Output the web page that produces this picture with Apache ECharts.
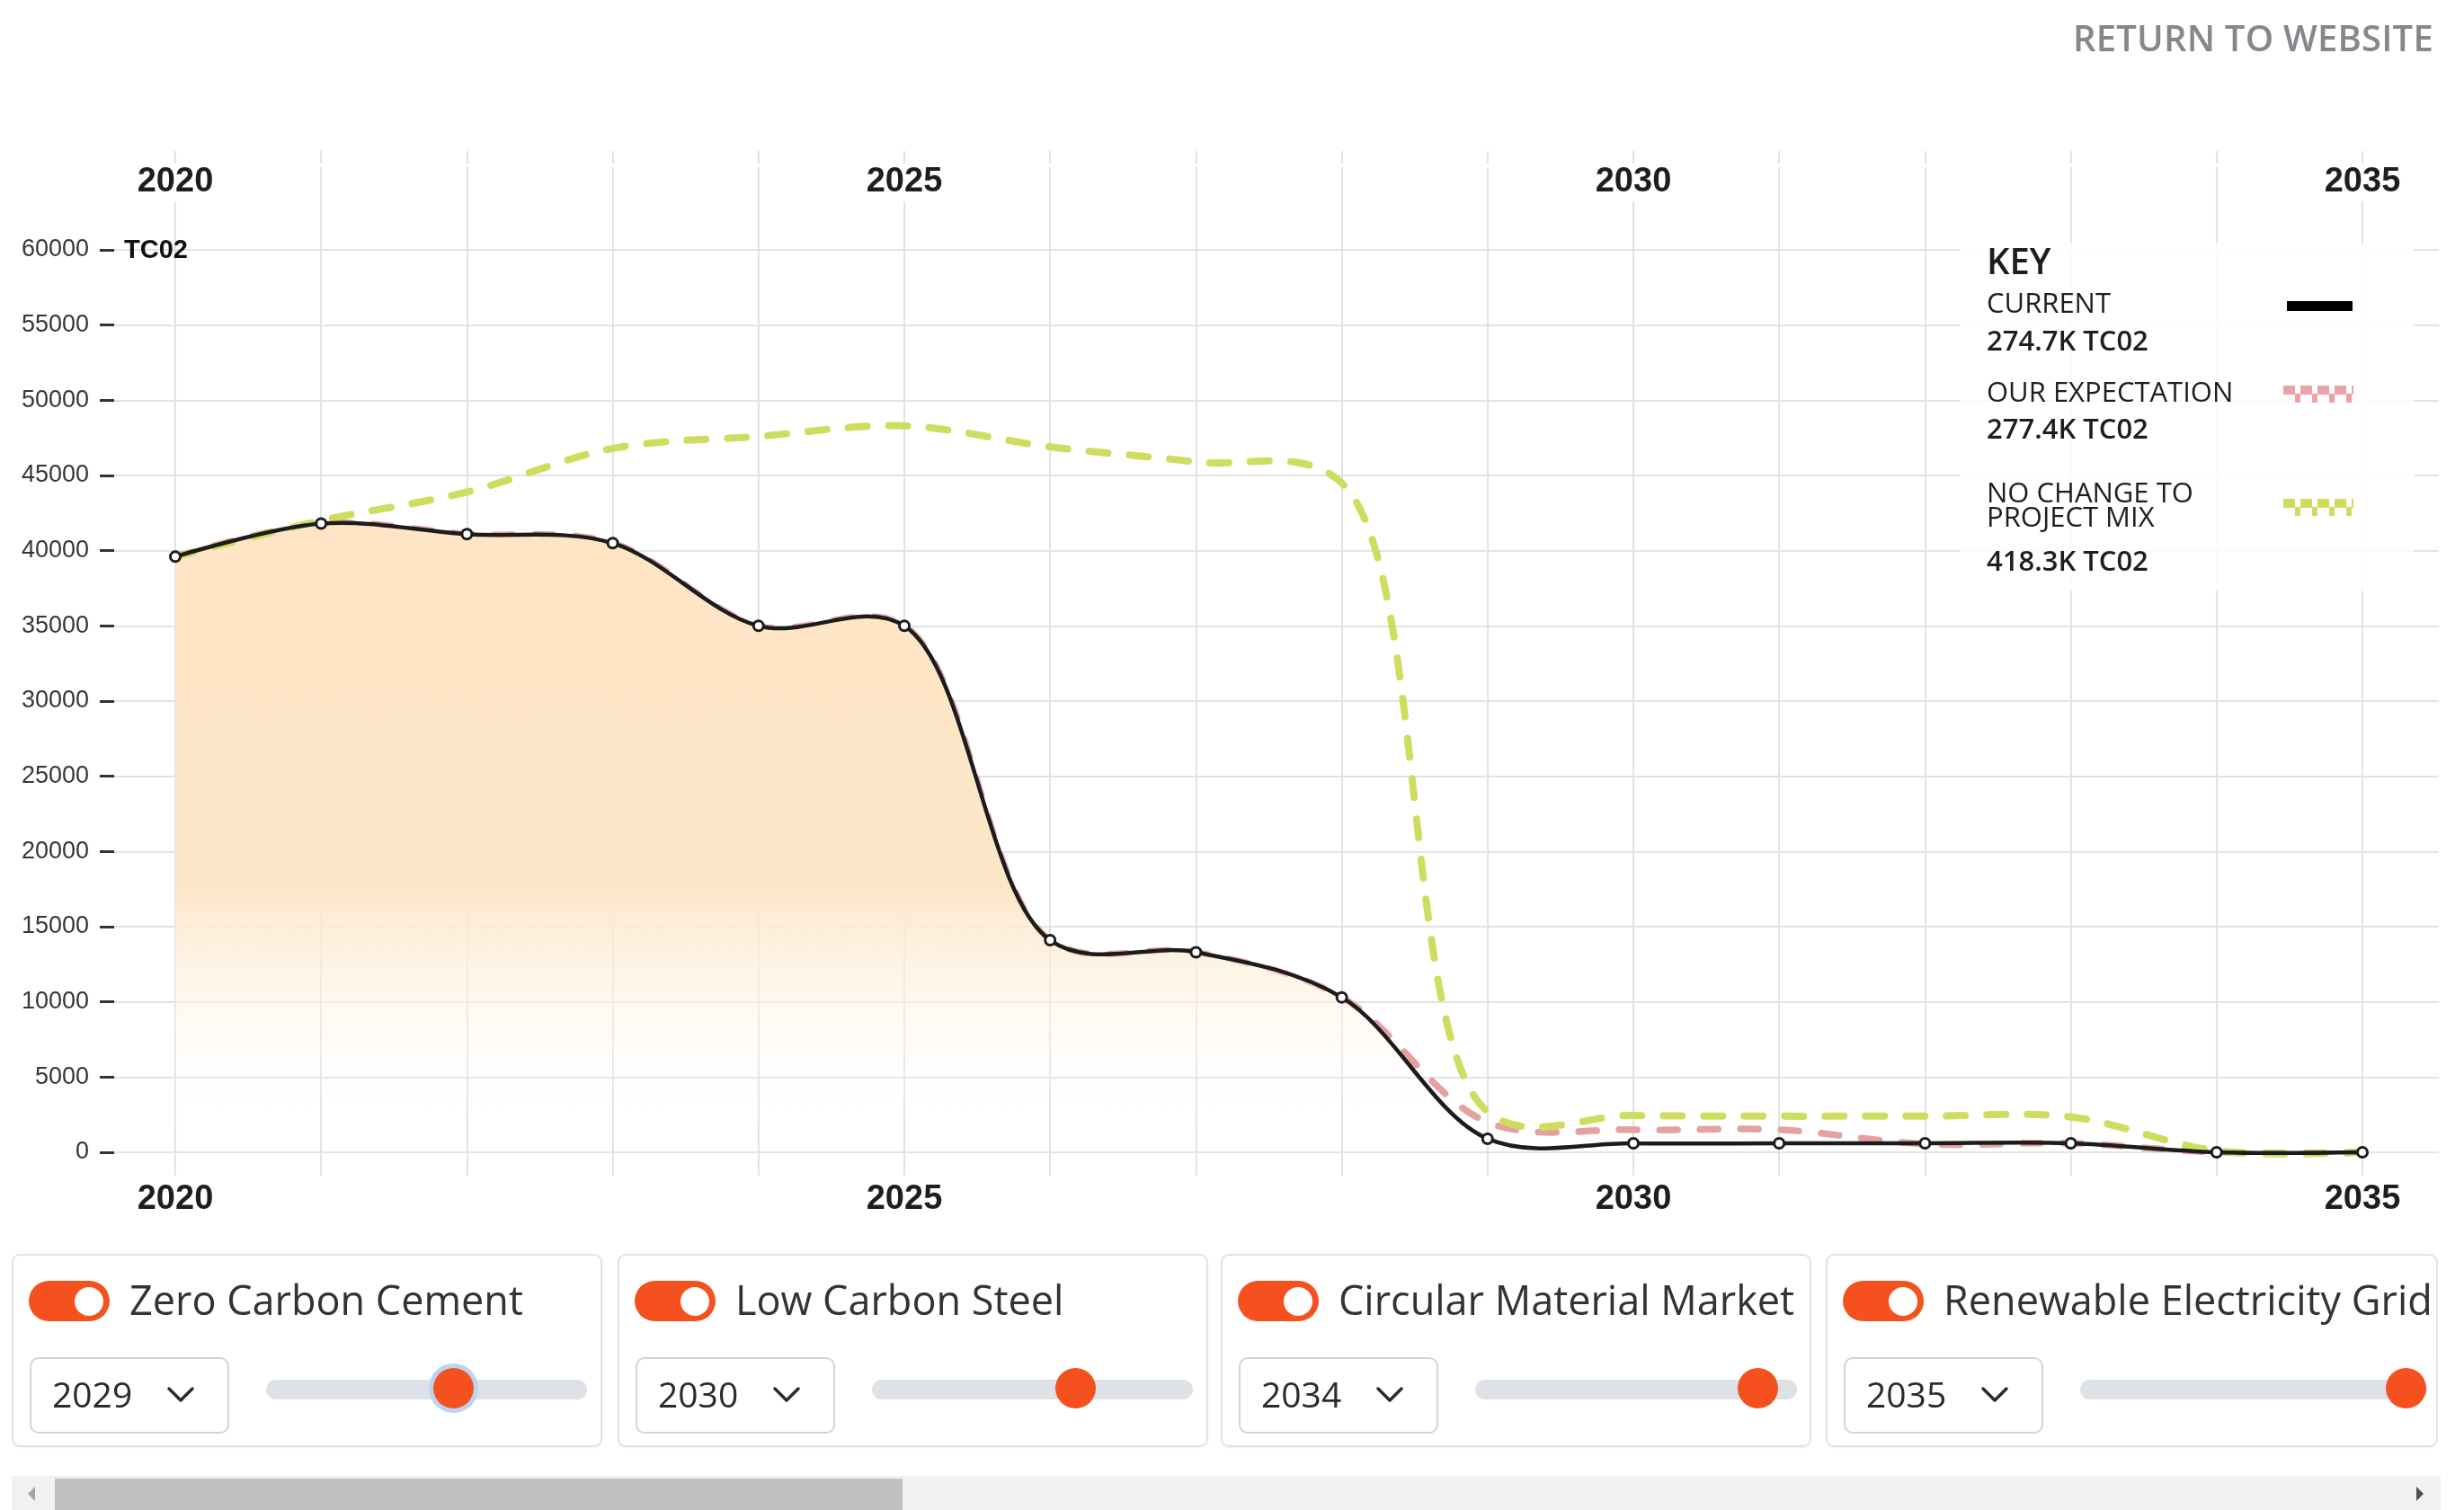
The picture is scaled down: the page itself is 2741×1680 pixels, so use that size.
<!DOCTYPE html>
<html>
<head>
<meta charset="utf-8">
<script src="https://cdn.jsdelivr.net/npm/echarts@6/dist/echarts.min.js"></script>
<style>
  html, body { margin: 0; padding: 0; background: #fff; width: 2741px; height: 1680px; overflow: hidden; }
  #chart { position: absolute; left: 0; top: 0; width: 2741px; height: 1680px; }
  .ui { position: absolute; font-family: "Open Sans", sans-serif; }
  #ret { left: 2306px; top: 22px; font-size: 40px; line-height: 1; font-weight: 600; color: #86868c; letter-spacing: 0.2px; white-space: nowrap; }
  .card { position: absolute; top: 1395px; height: 215px; box-sizing: border-box; border: 2px solid #e2e3e5; border-radius: 9px; background: #fff; box-shadow: 0 1px 2px rgba(0,0,0,0.05); }
  .toggle { position: absolute; left: 17px; top: 28px; width: 90px; height: 45px; border-radius: 23px; background: #f4511e; }
  .toggle .k { position: absolute; left: 51px; top: 6.5px; width: 32px; height: 32px; border-radius: 50%; background: #fff; }
  .lbl { position: absolute; left: 129px; top: 19px; font-size: 45px; line-height: 60px; color: #333; white-space: nowrap; }
  .sel { position: absolute; left: 18px; top: 113px; width: 222px; height: 85px; box-sizing: border-box; border: 2px solid #cfd5dd; border-radius: 10px; background: #fff; }
  .sel .t { position: absolute; left: 23px; top: 9px; font-size: 39px; line-height: 60px; color: #2b2b2b; }
  .sel svg { position: absolute; left: 150px; top: 30px; }
  .track { position: absolute; top: 138px; height: 22px; border-radius: 11px; background: #dee1e6; }
  .knob { position: absolute; top: 125px; width: 45px; height: 45px; border-radius: 50%; background: #f4511e; }
  .knob.focus { box-shadow: 0 0 0 5px #bcd4f4; }
  #sbar { position: absolute; left: 13px; top: 1642px; width: 2702px; height: 38px; background: #f1f1f1; }
  #sthumb { position: absolute; left: 48px; top: 3px; width: 943px; height: 35px; background: #c1c1c1; }
  .arr { position: absolute; top: 12px; width: 0; height: 0; border-top: 8px solid transparent; border-bottom: 8px solid transparent; }
  #aL { left: 18px; border-right: 8px solid #a3a3a3; }
  #aR { left: 2675px; border-left: 8px solid #505050; }
</style>
</head>
<body>
<div id="chart"></div>
<div id="ret" class="ui">RETURN TO WEBSITE</div>
<div id="cards"></div>
<div id="sbar"><div id="sthumb"></div><div class="arr" id="aL"></div><div class="arr" id="aR"></div></div>
<script>
// ---------------- data ----------------
const years = [2020, 2021, 2022, 2023, 2024, 2025, 2026, 2027, 2028, 2029, 2030, 2031, 2032, 2033, 2034, 2035];
const current = [39600, 41800, 41100, 40500, 35000, 35000, 14100, 13300, 10300, 900, 600, 600, 600, 600, 0, 0];
const expectation = [39600, 41800, 41100, 40500, 35000, 35000, 14100, 13300, 10300, 2000, 1500, 1500, 550, 600, 0, 0];
const noChange = [39600, 42000, 43900, 46800, 47600, 48300, 46900, 45900, 44500, 2700, 2450, 2400, 2400, 2350, 100, 0];
const yearLabels = [2020, 2025, 2030, 2035];
const yMin = 0, yMax = 60000, yStep = 5000;
const unitLabel = 'TC02';
const keyTitle = 'KEY';
const seriesNames = ['CURRENT', 'OUR EXPECTATION', 'NO CHANGE TO\nPROJECT MIX'];
const seriesTotals = ['274.7K TC02', '277.4K TC02', '418.3K TC02'];
const levers = ['Zero Carbon Cement', 'Low Carbon Steel', 'Circular Material Market', 'Renewable Electricity Grid'];
const leverYears = [2029, 2030, 2034, 2035];

// ---------------- UI controls (HTML) ----------------
const cardLefts = [13, 687, 1358, 2031];
const cardWidths = [657, 657, 657, 681];
const trackW = [357, 357, 358, 386];
const knobCenters = [491, 509, 597, 645];
const cardsEl = document.getElementById('cards');
levers.forEach((name, i) => {
  const c = document.createElement('div');
  c.className = 'card ui';
  c.style.left = cardLefts[i] + 'px';
  c.style.width = cardWidths[i] + 'px';
  c.innerHTML =
    '<div class="toggle"><div class="k"></div></div>' +
    '<div class="lbl">' + name + '</div>' +
    '<div class="sel"><div class="t">' + leverYears[i] + '</div>' +
    '<svg width="32" height="20" viewBox="0 0 32 20"><polyline points="3,3 16,16 29,3" fill="none" stroke="#2b2b2b" stroke-width="3.5" stroke-linecap="round" stroke-linejoin="round"/></svg></div>' +
    '<div class="track" style="left:281px;width:' + trackW[i] + 'px"></div>' +
    '<div class="knob' + (i === 0 ? ' focus' : '') + '" style="left:' + (knobCenters[i] - 24.5) + 'px"></div>';
  cardsEl.appendChild(c);
});

// ---------------- chart ----------------
const chart = echarts.init(document.getElementById('chart'), null, { renderer: 'canvas' });
const pairs = arr => years.map((y, i) => [y, arr[i]]);
const gridColor = '#e3e3e3';
const numFont = '"Liberation Sans", Arial, sans-serif';
const yearFmt = v => (yearLabels.indexOf(v) >= 0 ? String(v) : '');
const pink = '#e5a1a1';
const green = '#cfdd5f';
const black = '#1c1c1c';

// centripetal Catmull-Rom (alpha 0.5) through pixel points
function crPath(pts) {
  const alpha = 0.5, eps = 1e-12;
  const dist2 = (a, b) => (a[0] - b[0]) * (a[0] - b[0]) + (a[1] - b[1]) * (a[1] - b[1]);
  let d = 'M' + pts[0][0] + ',' + pts[0][1];
  for (let i = 0; i < pts.length - 1; i++) {
    const p0 = pts[i - 1] || pts[i], p1 = pts[i], p2 = pts[i + 1], p3 = pts[i + 2] || pts[i + 1];
    const l01_2a = Math.pow(dist2(p0, p1), alpha), l01_a = Math.sqrt(l01_2a);
    const l12_2a = Math.pow(dist2(p1, p2), alpha), l12_a = Math.sqrt(l12_2a);
    const l23_2a = Math.pow(dist2(p2, p3), alpha), l23_a = Math.sqrt(l23_2a);
    let c1 = [p1[0], p1[1]], c2 = [p2[0], p2[1]];
    if (l01_a > eps) {
      const a = 2 * l01_2a + 3 * l01_a * l12_a + l12_2a, n = 3 * l01_a * (l01_a + l12_a);
      c1 = [(p1[0] * a - p0[0] * l12_2a + p2[0] * l01_2a) / n, (p1[1] * a - p0[1] * l12_2a + p2[1] * l01_2a) / n];
    }
    if (l23_a > eps) {
      const b = 2 * l23_2a + 3 * l23_a * l12_a + l12_2a, m = 3 * l23_a * (l23_a + l12_a);
      c2 = [(p2[0] * b + p1[0] * l23_2a - p3[0] * l12_2a) / m, (p2[1] * b + p1[1] * l23_2a - p3[1] * l12_2a) / m];
    }
    d += ' C' + c1[0] + ',' + c1[1] + ' ' + c2[0] + ',' + c2[1] + ' ' + p2[0] + ',' + p2[1];
  }
  return d;
}

function curveSeries(name, values, z, style, area) {
  return {
    name: name, type: 'custom', xAxisIndex: 3, yAxisIndex: 2, z: z, silent: true,
    data: pairs(values),
    renderItem: function (params, api) {
      if (params.dataIndex !== 0) return null;
      const pts = years.map((y, i) => api.coord([y, values[i]]));
      let d = crPath(pts);
      if (area) {
        const base = api.coord([years[0], 0])[1];
        d += ' L' + pts[pts.length - 1][0] + ',' + base + ' L' + pts[0][0] + ',' + base + ' Z';
      }
      return { type: 'path', shape: { pathData: d }, style: style };
    }
  };
}

function dashRow(x, y, w, h, dash, gap, offset, color) {
  const out = [];
  let pos = -offset;
  while (pos < w) {
    const s = Math.max(pos, 0), e = Math.min(pos + dash, w);
    if (e > s) out.push({ type: 'rect', shape: { x: x + s, y: y, width: e - s, height: h }, style: { fill: color }, z: 101 });
    pos += dash + gap;
  }
  return out;
}
function checker(x, y, color) {
  return dashRow(x, y, 78, 10, 13, 6, 0, color).concat(dashRow(x, y + 9, 78, 10, 6, 13, -13, color));
}

const legendX = 2210;
const txt = (text, y, size, weight) => ({
  type: 'text', z: 101,
  style: { text: text, x: legendX, y: y, font: weight + ' ' + size + 'px "Open Sans", sans-serif', fill: '#1e1e1e', verticalAlign: 'middle', lineHeight: 27 }
});

const areaFill = new echarts.graphic.LinearGradient(0, 0, 0, 1, [
  { offset: 0, color: '#fde5c5' },
  { offset: 0.58, color: '#fde6c8' },
  { offset: 0.96, color: 'rgba(255,255,255,0)' }
]);

const option = {
  animation: false,
  backgroundColor: '#fff',
  grid: [
    { left: 195, right: 113, top: 168, bottom: 372 },
    { left: 127, right: 28, top: 278, bottom: 398 },
    { left: 195, right: 113, top: 278, bottom: 398 }
  ],
  xAxis: [
    { gridIndex: 0, type: 'value', min: years[0], max: years[years.length - 1], interval: 1, position: 'bottom',
      axisLine: { show: false }, axisTick: { show: false },
      splitLine: { show: true, lineStyle: { color: gridColor, width: 2 } },
      axisLabel: { formatter: yearFmt, margin: 8, fontSize: 38, fontWeight: 'bold', color: '#1e1e1e', fontFamily: numFont } },
    { gridIndex: 0, type: 'value', min: years[0], max: years[years.length - 1], interval: 1, position: 'top',
      axisLine: { show: false }, axisTick: { show: false }, splitLine: { show: false },
      axisLabel: { inside: true, formatter: yearFmt, margin: 14, fontSize: 38, fontWeight: 'bold', color: '#1e1e1e', fontFamily: numFont,
                   backgroundColor: '#fff', padding: [2, 6, 2, 6] } },
    { gridIndex: 1, type: 'value', min: 0, max: 1, show: false },
    { gridIndex: 2, type: 'value', min: years[0], max: years[years.length - 1], show: false }
  ],
  yAxis: [
    { gridIndex: 0, type: 'value', min: 0, max: 1, show: false },
    { gridIndex: 1, type: 'value', min: yMin, max: yMax, interval: yStep,
      axisLine: { show: false },
      axisTick: { show: true, length: 16, lineStyle: { color: '#333', width: 3 } },
      splitLine: { show: true, lineStyle: { color: gridColor, width: 2 } },
      axisLabel: { margin: 28, fontSize: 27, color: '#363636', fontFamily: numFont, formatter: v => String(v) } },
    { gridIndex: 2, type: 'value', min: yMin, max: yMax, show: false }
  ],
  series: [
    curveSeries(seriesNames[1], expectation, 1, { fill: 'none', stroke: pink, lineWidth: 7.5, lineDash: [20, 25], lineCap: 'round' }, false),
    curveSeries('CURRENT AREA', current, 2, { fill: areaFill, stroke: 'none' }, true),
    curveSeries(seriesNames[2], noChange, 3, { fill: 'none', stroke: green, lineWidth: 8, lineDash: [21, 24], lineCap: 'round' }, false),
    curveSeries(seriesNames[0], current, 4, { fill: 'none', stroke: black, lineWidth: 4.5, lineJoin: 'round' }, false),
    { name: seriesNames[0] + ' POINTS', type: 'scatter', xAxisIndex: 3, yAxisIndex: 2, z: 5, data: pairs(current),
      symbol: 'circle', symbolSize: 11, itemStyle: { color: '#fff', borderColor: black, borderWidth: 3, opacity: 1 } }
  ],
  graphic: [
    { type: 'text', z: 50, style: { text: unitLabel, x: 138, y: 279, font: 'bold 29px "Liberation Sans", Arial, sans-serif', fill: '#111', verticalAlign: 'middle' } },
    { type: 'rect', z: 100, shape: { x: 2180, y: 270, width: 505, height: 387 }, style: { fill: 'rgba(255,255,255,0.86)' } },
    txt(keyTitle, 294, 40, 600),
    txt(seriesNames[0], 339, 31, 400),
    txt(seriesTotals[0], 381, 31, 600),
    txt(seriesNames[1], 438, 31, 400),
    txt(seriesTotals[1], 479, 31, 600),
    txt(seriesNames[2], 564, 31, 400),
    txt(seriesTotals[2], 626, 31, 600),
    { type: 'rect', z: 101, shape: { x: 2544, y: 335, width: 73, height: 11 }, style: { fill: '#000' } }
  ].concat(checker(2540, 429, '#e8a4a4')).concat(checker(2540, 555, green))
};
chart.setOption(option);
</script>
</body>
</html>
